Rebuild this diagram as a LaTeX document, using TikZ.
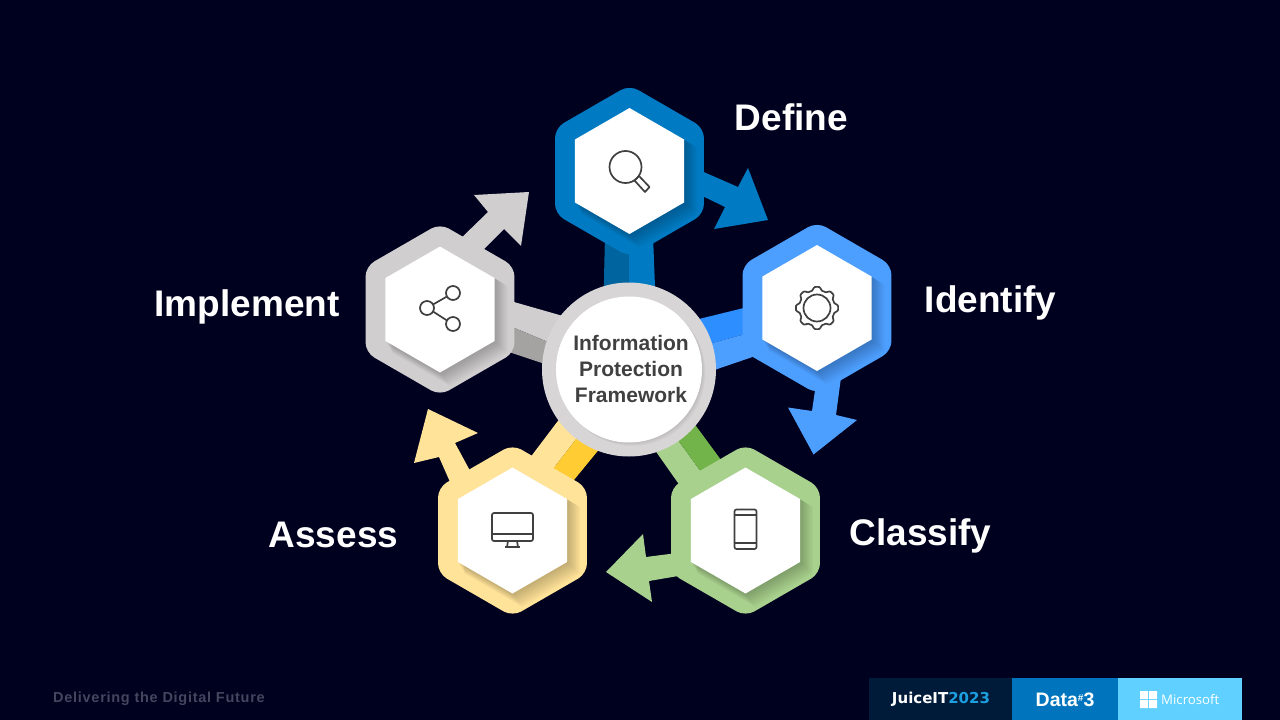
\documentclass[tikz,border=0pt]{standalone}
\usepackage{fontspec}
\setmainfont{Liberation Sans}
\newfontfamily\opensans{Open Sans}
\newfontfamily\dejavu{DejaVu Sans}
\usetikzlibrary{shapes.geometric,calc}
\definecolor{bgc}{HTML}{00001F}
\definecolor{blueA}{HTML}{007AC2}\definecolor{blueB}{HTML}{00659F}
\definecolor{skyA}{HTML}{4D9FFF}\definecolor{skyB}{HTML}{2D8FFF}
\definecolor{grayA}{HTML}{D0CECE}\definecolor{grayB}{HTML}{A5A2A2}
\definecolor{yelA}{HTML}{FFE399}\definecolor{yelB}{HTML}{FFCC33}
\definecolor{grnA}{HTML}{A9D18E}\definecolor{grnB}{HTML}{72B44A}
\definecolor{icon}{HTML}{404040}
\definecolor{tagc}{HTML}{45465E}
\definecolor{juice}{HTML}{001A3A}\definecolor{juiceb}{HTML}{1B9FDF}
\definecolor{dataC}{HTML}{0075BD}\definecolor{msC}{HTML}{5FD0FF}
\tikzset{
  x=1pt,y=-1pt,
  hexshape/.style={regular polygon,regular polygon sides=6,regular polygon rotate=30,inner sep=0pt,outer sep=0pt},
  hexouter/.style={hexshape,minimum size=172pt,rounded corners=10pt},
  hexinner/.style={hexshape,minimum size=126pt,fill=white},
  iconline/.style={draw=icon,line width=1.7pt,line join=round},
  steplabel/.style={font=\fontsize{37}{40}\selectfont\bfseries,text=white,inner sep=0pt},
}
\newcommand{\hexstage}[4]{% name, x, y, colour
  \node[hexouter,fill=#4] (#1) at (#2,#3) {};
  \foreach \i in {1,...,10}{
    \node[hexshape,fill=black,fill opacity=0.022,minimum size={126pt+0.7pt*\i}] (#1-s\i) at (#2+\i,#3+\i) {};
  }
  \node[hexinner] (#1-w) at (#2,#3) {};
}
\begin{document}
\begin{tikzpicture}
\fill[bgc] (0,0) rectangle (1280,720);
\useasboundingbox (0,0) rectangle (1280,720);

% stems
\fill[blueB] (605,235) -- (629,235) -- (629,300) -- (603.5,300) -- cycle;
\fill[blueA] (629,235) -- (653,235) -- (655.5,300) -- (629,300) -- cycle;
\fill[skyB] (695,320) -- (760,304) -- (760,330) -- (705,345) -- cycle;
\fill[skyA] (705,345) -- (760,330) -- (770,351) -- (710,371.5) -- cycle;
\fill[grayA] (500,298) -- (570,318) -- (560,347) -- (505,324) -- cycle;
\fill[grayB] (505,324) -- (560,347) -- (560,369) -- (500,349) -- cycle;
\fill[yelA] (520,471) -- (570,405) -- (590,421) -- (540,486) -- cycle;
\fill[yelB] (540,486) -- (590,421) -- (610,436) -- (560,497) -- cycle;
\fill[grnA] (645,436) -- (690,500) -- (712,487) -- (667,425) -- cycle;
\fill[grnB] (667,425) -- (712,487) -- (735,479) -- (685,411) -- cycle;

% arrows
\fill[blueA] (768,220) -- (748,168) -- (738,187) -- (690,166) -- (690,190) -- (725,207) -- (714,229) -- cycle;
\fill[skyA] (813.5,454.5) -- (788,407.5) -- (812,411) -- (818,370) -- (842,370) -- (836,415) -- (857,420) -- cycle;
\fill[grnA] (606,572) -- (643,534) -- (646,557) -- (685,552) -- (690,574) -- (649,581) -- (652,602) -- cycle;
\fill[yelA] (428,409) -- (414,463) -- (439,457) -- (454,491) -- (475,480) -- (455,443) -- (478,433) -- cycle;
\fill[grayA] (529,192) -- (474,195) -- (488,212) -- (455,244) -- (475,258) -- (504,229) -- (521,246) -- cycle;

% hexagons
\hexstage{define}{629.5}{171}{blueA}
\hexstage{identify}{817}{308}{skyA}
\hexstage{classify}{745.5}{530.5}{grnA}
\hexstage{assess}{512.5}{530.5}{yelA}
\hexstage{implement}{440}{309.5}{grayA}

% hub
\node[circle,fill=grayA!85!white,minimum size=174pt,inner sep=0pt] (hubring) at (629,369.5) {};
\foreach \i in {1,...,6}{
  \node[circle,fill=black,fill opacity=0.015,minimum size={146pt},inner sep=0pt] (hubs\i) at (629+0.6*\i,369.5+0.6*\i) {};
}
\node[circle,fill=white,minimum size=146pt,inner sep=0pt] (hub) at (629,369.5) {};
\node[inner sep=0pt,align=center,text=icon,font=\fontsize{21}{25.6}\selectfont\bfseries] (hubtext) at (631,369)
      {Information\\Protection\\Framework};

% icons
\draw[iconline] (625.5,167) circle (16);
\draw[iconline] (634.5,180.5) -- (639,176) -- (649.5,187) -- (645,192) -- cycle;
\draw[iconline] (817,308) circle (13.5);
\draw[iconline] plot[domain=0:360,samples=181,smooth cycle] ({817+(19.5+1.9*cos(8*\x)-0.3*cos(24*\x))*cos(\x)},{308+(19.5+1.9*cos(8*\x)-0.3*cos(24*\x))*sin(\x)});
\coordinate (sa) at (453,293);\coordinate (sb) at (427,308);\coordinate (sc) at (453,324);
\draw[iconline] (sa) circle (7) (sb) circle (7) (sc) circle (7);
\draw[iconline] ($(sb)+(6,-3.5)$) -- ($(sa)+(-6,3.5)$);
\draw[iconline] ($(sb)+(6,3.5)$) -- ($(sc)+(-6,-3.5)$);
\draw[iconline,rounded corners=2pt] (492,513) rectangle (533,541);
\draw[iconline] (492,534) -- (533,534);
\draw[iconline] (508,541) -- (507,547) -- (518,547) -- (517,541);
\draw[iconline] (505,547) -- (520,547);
\draw[iconline,rounded corners=2pt] (734.5,509.5) rectangle (756.5,549);
\draw[iconline] (734.5,515) -- (756.5,515) (734.5,543) -- (756.5,543);

% labels
\node[steplabel] (ldefine) at (791.5,117) {Define};
\node[steplabel] (lidentify) at (990.5,303) {Identify};
\node[steplabel] (lclassify) at (920.5,536) {Classify};
\node[steplabel] (lassess) at (333.5,535) {Assess};
\node[steplabel] (limplement) at (247,307) {Implement};

% footer
\node[anchor=west,inner sep=0pt,text=tagc,font=\fontsize{14.5}{16}\selectfont\bfseries\addfontfeature{LetterSpace=5}] (tag) at (53,699) {Delivering the Digital Future};
\fill[juice] (869,678) rectangle (1012,720);
\fill[dataC] (1012,678) rectangle (1118,720);
\fill[msC] (1118,678) rectangle (1242,720);
\node[inner sep=0pt,text=white,font=\dejavu\fontsize{15}{18}\selectfont\bfseries] (juiceit) at (941,699.5) {JuiceIT\textcolor{juiceb}{2023}};
\node[inner sep=0pt,text=white,font=\fontsize{19.5}{24}\selectfont\bfseries] (data3) at (1065,699.5) {Data\raisebox{5pt}{\fontsize{10}{10}\selectfont\#}3};
\fill[white] (1140,691) rectangle (1148,699) (1149,691) rectangle (1157,699) (1140,700) rectangle (1148,708) (1149,700) rectangle (1157,708);
\node[anchor=west,inner sep=0pt,text=white,font=\opensans\fontsize{13.2}{16}\selectfont] (ms) at (1161,700) {Microsoft};
\end{tikzpicture}
\end{document}
